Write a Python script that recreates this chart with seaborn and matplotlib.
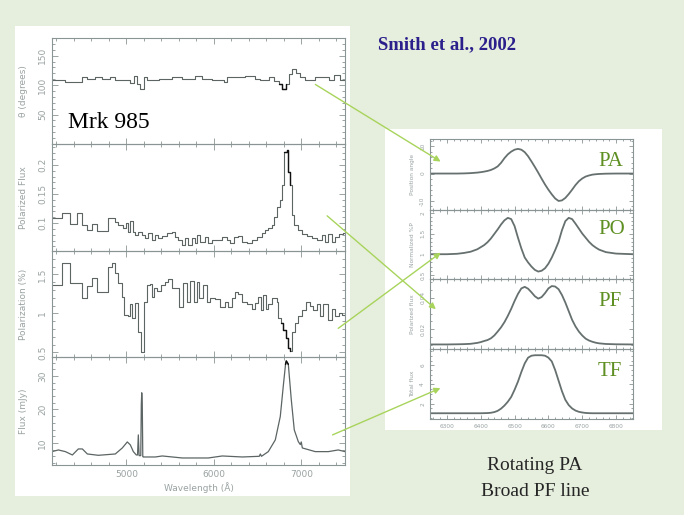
import matplotlib
matplotlib.use("Agg")
import numpy as np
import matplotlib.pyplot as plt
import seaborn as sns
from matplotlib.patches import Rectangle, FancyArrowPatch
from matplotlib.ticker import MultipleLocator

# ---- left: Mrk 985 spectropolarimetry (step bins, wavelength in Angstrom) ----
pa_edges = [4150, 4303, 4494, 4551, 4646, 4722, 4817, 4874, 5046, 5083, 5122, 5160,
            5198, 5237, 5369, 5522, 5637, 5789, 5865, 5980, 6112, 6151, 6246, 6360,
            6474, 6532, 6627, 6684, 6741, 6780, 6825, 6863, 6894, 6940, 6989, 7046,
            7160, 7312, 7369, 7446, 7503]
pa_vals = [109, 106, 113, 111, 114, 111, 114, 109, 104, 115, 102, 93,
           113, 109, 111, 113, 111, 115, 111, 109, 106, 114, 113, 115,
           111, 108, 113, 107, 102, 93, 102, 119, 128, 121, 113, 109,
           113, 108, 117, 109]

pf_edges = [4150, 4269, 4360, 4440, 4497, 4554, 4611, 4669, 4794, 4874, 4909, 4966,
            5000, 5023, 5046, 5080, 5103, 5137, 5183, 5217, 5251, 5297, 5331, 5366,
            5411, 5469, 5526, 5560, 5594, 5640, 5674, 5709, 5754, 5789, 5812, 5846,
            5903, 5937, 5983, 6097, 6154, 6189, 6234, 6280, 6326, 6383, 6440, 6497,
            6554, 6589, 6623, 6669, 6692, 6726, 6760, 6783, 6806, 6840, 6852, 6874,
            6897, 6920, 6966, 7012, 7069, 7126, 7183, 7240, 7274, 7309, 7355, 7389,
            7435, 7480, 7503]
pf_vals = [0.109, 0.117, 0.098, 0.117, 0.097, 0.088, 0.098, 0.086, 0.109, 0.102, 0.097, 0.091,
           0.100, 0.084, 0.103, 0.084, 0.079, 0.084, 0.079, 0.074, 0.083, 0.071, 0.079, 0.074,
           0.078, 0.083, 0.084, 0.076, 0.071, 0.062, 0.074, 0.062, 0.074, 0.066, 0.079, 0.067,
           0.076, 0.066, 0.071, 0.076, 0.071, 0.066, 0.076, 0.078, 0.067, 0.066, 0.071, 0.076,
           0.083, 0.088, 0.091, 0.097, 0.110, 0.128, 0.140, 0.166, 0.222, 0.226, 0.188, 0.166,
           0.114, 0.097, 0.088, 0.081, 0.078, 0.074, 0.071, 0.079, 0.067, 0.081, 0.067, 0.076,
           0.081, 0.083]

pol_edges = [4150, 4269, 4360, 4497, 4554, 4611, 4669, 4794, 4840, 4874, 4909, 4954,
             4977, 5023, 5046, 5069, 5103, 5137, 5171, 5206, 5240, 5274, 5297, 5320,
             5354, 5400, 5446, 5480, 5526, 5606, 5652, 5697, 5731, 5777, 5812, 5834,
             5880, 5926, 5960, 6017, 6074, 6131, 6166, 6212, 6246, 6280, 6326, 6383,
             6440, 6474, 6509, 6543, 6566, 6600, 6623, 6669, 6726, 6737, 6772, 6794,
             6829, 6852, 6874, 6897, 6932, 6966, 7012, 7057, 7103, 7137, 7183, 7217,
             7252, 7309, 7355, 7389, 7435, 7469, 7503]
pol_vals = [1.37, 1.64, 1.39, 1.20, 1.35, 1.45, 1.28, 1.60, 1.64, 1.52, 1.39, 1.21,
            0.98, 0.96, 1.12, 0.94, 1.13, 0.76, 0.50, 1.15, 1.37, 1.38, 1.21, 1.33,
            1.29, 1.36, 1.40, 1.44, 1.32, 1.08, 1.39, 1.15, 1.42, 1.14, 1.40, 1.20,
            1.36, 1.15, 1.20, 1.18, 1.08, 1.14, 1.08, 1.20, 1.27, 1.25, 1.14, 1.12,
            1.06, 1.13, 1.21, 1.04, 1.24, 1.06, 1.12, 1.20, 1.15, 0.94, 0.88, 0.79,
            0.68, 0.56, 0.52, 0.76, 0.88, 0.96, 1.04, 1.14, 1.10, 1.04, 1.12, 0.96,
            1.12, 0.92, 1.05, 0.96, 1.01, 0.98]

flux_wave = [4150, 4223, 4303, 4383, 4451, 4497, 4554, 4680, 4874, 4954, 5011, 5046,
             5080, 5114, 5128, 5137, 5146, 5165, 5171, 5176, 5182, 5188, 5194, 5331,
             5411, 5640, 5937, 6097, 6326, 6520, 6532, 6545, 6623, 6703, 6760, 6794,
             6820, 6829, 6852, 6886, 6920, 6966, 6989, 7000, 7012, 7160, 7309, 7423,
             7500]
flux_vals = [7.4, 7.9, 7.4, 6.4, 8.2, 8.2, 6.7, 6.3, 6.7, 8.5, 10.3, 9.4,
             7.4, 6.4, 6.4, 12.4, 6.2, 6.2, 21.5, 25.0, 22.0, 5.9, 5.8, 5.8,
             6.1, 5.5, 5.5, 6.1, 5.8, 6.0, 6.7, 6.0, 7.4, 10.9, 17.9, 26.9,
             33.5, 34.5, 33.5, 22.9, 13.9, 10.4, 9.5, 10.3, 8.5, 7.4, 7.4, 7.9,
             7.4]

# ---- right: model line profiles ----
model_wave = [6250, 6300, 6330,
              6350, 6360, 6370, 6380, 6390, 6400, 6410, 6420, 6430, 6440,
              6450, 6460, 6470, 6480, 6490, 6500, 6510, 6520, 6530, 6540,
              6550, 6560, 6570, 6580, 6590, 6600, 6610, 6620, 6630, 6640,
              6650, 6660, 6670, 6680, 6690, 6700, 6710, 6720, 6730, 6740,
              6750, 6770, 6800, 6850]
model_pa = [0, 0, 0,
            0.05, 0.1, 0.15, 0.25, 0.35, 0.5, 0.7, 0.95, 1.3, 1.85,
            2.6, 3.9, 5.6, 7.0, 8.0, 8.7, 9.0, 8.7, 7.8, 6.3,
            4.4, 2.4, 0.3, -1.9, -4.0, -5.9, -7.6, -9.1, -10.0, -9.8,
            -8.9, -7.5, -5.9, -4.2, -2.8, -1.8, -1.1, -0.7, -0.4, -0.25,
            -0.15, -0.05, 0, 0]
model_po = [1.0, 1.0, 1.01,
            1.03, 1.045, 1.06, 1.09, 1.12, 1.17, 1.22, 1.29, 1.38, 1.49,
            1.60, 1.72, 1.82, 1.88, 1.85, 1.68, 1.40, 1.14, 0.92, 0.80,
            0.70, 0.62, 0.58, 0.60, 0.66, 0.77, 0.92, 1.10, 1.30, 1.58,
            1.80, 1.88, 1.85, 1.74, 1.62, 1.50, 1.40, 1.30, 1.22, 1.16,
            1.11, 1.05, 1.015, 1.0]
model_pf = [0.0103, 0.0103, 0.0104,
            0.0105, 0.0106, 0.0107, 0.0110, 0.0113, 0.0118, 0.0125, 0.0131, 0.0142, 0.0160,
            0.0185, 0.0212, 0.0245, 0.0285, 0.0330, 0.0380, 0.0425, 0.0460, 0.0470, 0.0458,
            0.0435, 0.0410, 0.0395, 0.0405, 0.0430, 0.0460, 0.0475, 0.0472, 0.0455, 0.0418,
            0.0370, 0.0315, 0.0260, 0.0218, 0.0185, 0.0160, 0.0140, 0.0128, 0.0120, 0.0114,
            0.0110, 0.0106, 0.0104, 0.0103]
model_tf = [1.0, 1.0, 1.0,
            1.0, 1.0, 1.0, 1.0, 1.0, 1.0, 1.01, 1.02, 1.05, 1.12,
            1.25, 1.48, 1.80, 2.20, 2.70, 3.45, 4.30, 5.30, 6.20, 6.80,
            7.00, 7.05, 7.05, 7.05, 7.00, 6.80, 6.40, 5.50, 4.40, 3.30,
            2.40, 1.85, 1.50, 1.28, 1.15, 1.08, 1.03, 1.01, 1.0, 1.0,
            1.0, 1.0, 1.0, 1.0]

BG = "#e6eedd"
LINE = "#5c6464"
SPINE = "#8a9494"
TICKC = "#9aa2a2"
GREEN_TXT = "#5e8f22"
ARROW = "#a8d45c"

sns.set_style("ticks")
plt.rcParams["font.family"] = ["DejaVu Sans"]

W, H = 684, 515
fig = plt.figure(figsize=(W / 100, H / 100), dpi=100, facecolor=BG)


def fx(px):
    return px / W


def fy(py):
    return 1 - py / H


def rect(x0, y0, x1, y1):
    return [fx(x0), fy(y1), fx(x1) - fx(x0), fy(y0) - fy(y1)]


# white panels of the slide
for x0, y0, x1, y1 in [(15, 26, 350, 496), (385, 129, 662, 430)]:
    fig.add_artist(Rectangle((fx(x0), fy(y1)), fx(x1) - fx(x0), fy(y0) - fy(y1),
                             transform=fig.transFigure, facecolor="white",
                             edgecolor="none", zorder=-5))


def style(ax, size, lab, lx):
    for s in ax.spines.values():
        s.set_color(SPINE)
        s.set_linewidth(0.8)
        s.set_visible(True)
    ax.tick_params(which="both", direction="in", top=True, right=True,
                   colors=SPINE, labelcolor=TICKC, labelsize=size, width=0.6)
    ax.tick_params(which="major", length=4 if size > 5 else 3)
    ax.tick_params(which="minor", length=2 if size > 5 else 1.5)
    ax.tick_params(axis="y", labelrotation=90)
    for t in ax.get_yticklabels():
        t.set_va("center")
    ax.set_ylabel(lab, color=TICKC, fontsize=size)
    ax.yaxis.set_label_coords(lx, 0.5)
    ax.set_xlabel("")
    ax.set_facecolor("none")


def steps(ax, edges, vals, dark=None):
    x = np.array(edges, dtype=float)
    y = np.array(list(vals) + [vals[-1]], dtype=float)
    sns.lineplot(x=x, y=y, ax=ax, drawstyle="steps-post", color=LINE, lw=0.8,
                 estimator=None, sort=False)
    if dark is not None:
        m = (x >= dark[0]) & (x <= dark[1])
        sns.lineplot(x=x[m], y=y[m], ax=ax, drawstyle="steps-post", color="#111111",
                     lw=1.0, estimator=None, sort=False)


# left column
tops = [38, 144, 251, 357, 465]
left_axes = [fig.add_axes(rect(52, tops[i], 345, tops[i + 1])) for i in range(4)]
a1, a2, a3, a4 = left_axes

steps(a1, pa_edges, pa_vals, dark=(6741, 6825))
a1.set_ylim(0, 180)
a1.set_yticks([50, 100, 150])
a1.yaxis.set_minor_locator(MultipleLocator(10))

steps(a2, pf_edges, pf_vals, dark=(6806, 6874))
a2.set_ylim(0.052, 0.236)
a2.set_yticks([0.1, 0.15, 0.2])
a2.set_yticklabels(["0.1", "0.15", "0.2"])
a2.yaxis.set_minor_locator(MultipleLocator(0.01))

steps(a3, pol_edges, pol_vals, dark=(6772, 6874))
a3.set_ylim(0.44, 1.80)
a3.set_yticks([0.5, 1, 1.5])
a3.set_yticklabels(["0.5", "1", "1.5"])
a3.yaxis.set_minor_locator(MultipleLocator(0.1))

fw = np.array(flux_wave, dtype=float)
fv = np.array(flux_vals, dtype=float)
sns.lineplot(x=fw, y=fv, ax=a4, color=LINE, lw=0.9, estimator=None, sort=False)
m = (fw >= 6800) & (fw <= 6860)
sns.lineplot(x=fw[m], y=fv[m], ax=a4, color="#111111", lw=1.1, estimator=None, sort=False)
a4.set_ylim(3.4, 35.7)
a4.set_yticks([10, 20, 30])
a4.yaxis.set_minor_locator(MultipleLocator(2))

labels = ["\u03b8 (degrees)", "Polarized Flux", "Polarization (%)", "Flux (mJy)"]
for ax, lab in zip(left_axes, labels):
    ax.set_xlim(4150, 7500)
    ax.xaxis.set_major_locator(MultipleLocator(1000))
    ax.xaxis.set_minor_locator(MultipleLocator(200))
    style(ax, 6.5, lab, -0.082)
    if ax is not a4:
        ax.tick_params(axis="x", labelbottom=False)
a4.set_xlabel("Wavelength (\u00c5)", color=TICKC, fontsize=6.5, labelpad=2)

# right column
rtops = [139, 210, 279, 349, 419]
right_axes = [fig.add_axes(rect(430, rtops[i], 633, rtops[i + 1])) for i in range(4)]
r1, r2, r3, r4 = right_axes
model = [(r1, model_pa, (-13.3, 12.6), [-10, 0, 10], 2, "Position angle"),
         (r2, model_po, (0.4, 2.07), [0.5, 1, 1.5, 2], 0.1, "Normalized %P"),
         (r3, model_pf, (0.0074, 0.052), [0.02, 0.04], 0.005, "Polarized flux"),
         (r4, model_tf, (0.4, 7.7), [2, 4, 6], 0.5, "Total flux")]
for ax, vals, lim, ticks, minor, lab in model:
    sns.lineplot(x=model_wave, y=vals, ax=ax, color="#66706f", lw=1.3,
                 estimator=None, sort=False)
    ax.set_xlim(6250, 6850)
    ax.set_ylim(*lim)
    ax.set_yticks(ticks)
    ax.set_yticklabels([f"{t:g}" for t in ticks])
    ax.yaxis.set_minor_locator(MultipleLocator(minor))
    ax.xaxis.set_major_locator(MultipleLocator(100))
    ax.xaxis.set_minor_locator(MultipleLocator(20))
    style(ax, 4.2, lab, -0.075)
    if ax is not r4:
        ax.tick_params(axis="x", labelbottom=False)

# slide text
fig.text(fx(68), fy(122), "Mrk 985", family="Liberation Serif", size=17,
         ha="left", va="center", color="black")
fig.text(fx(378), fy(45), "Smith et al., 2002", family="Liberation Serif",
         weight="bold", size=13.5, ha="left", va="center", color="#2b1f8c")
for txt, py in [("PA", 161), ("PO", 230), ("PF", 302), ("TF", 372)]:
    fig.text(fx(598), fy(py), txt, family="Liberation Serif", size=15,
             ha="left", va="center", color=GREEN_TXT)
fig.text(fx(535), fy(465), "Rotating PA", family="Liberation Serif", size=14,
         ha="center", va="center")
fig.text(fx(535), fy(491), "Broad PF line", family="Liberation Serif", size=14,
         ha="center", va="center")

# green arrows linking the panels
for (x0, y0), (x1, y1) in [((313, 83), (443, 163)), ((325, 214), (438, 311)),
                           ((336, 330), (443, 251)), ((330, 436), (443, 387))]:
    fig.add_artist(FancyArrowPatch((fx(x0), fy(y0)), (fx(x1), fy(y1)),
                                   transform=fig.transFigure, arrowstyle="-|>",
                                   mutation_scale=9, color=ARROW, lw=1.0, zorder=10))

fig.savefig("out.png", dpi=100, facecolor=BG)
